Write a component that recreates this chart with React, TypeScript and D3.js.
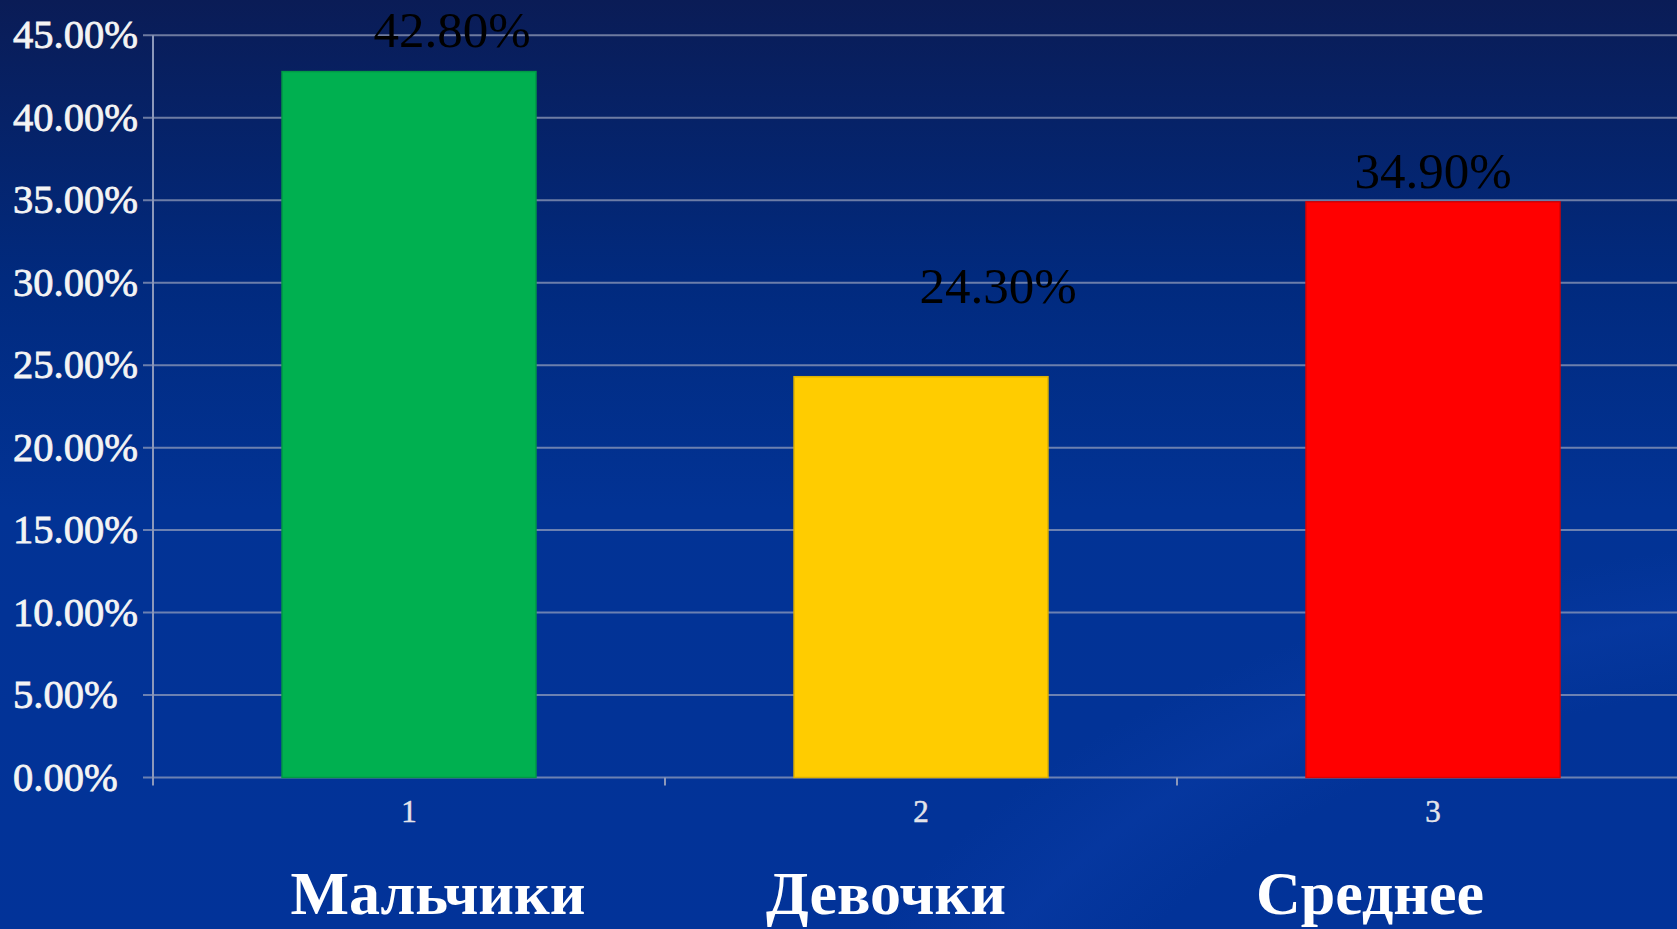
import React from "react";
import * as d3 from "d3";

const categories = ["1", "2", "3"];
const values = [42.8, 24.3, 34.9];
const valueLabels = ["42.80%", "24.30%", "34.90%"];
const groupNames = ["Мальчики", "Девочки", "Среднее"];
const barColors = ["#00b050", "#ffcc00", "#ff0000"];
const yTicks = [0, 5, 10, 15, 20, 25, 30, 35, 40, 45];
const yTickLabels = ["0.00%", "5.00%", "10.00%", "15.00%", "20.00%", "25.00%", "30.00%", "35.00%", "40.00%", "45.00%"];

// layout-only tweaks (label placement in the original slide)
const labelDx = [43, 77, 0];
const labelDy = [25, 74, 14];
const nameDx = [29, -35, -63];

const W = 1677;
const H = 929;

export default function App() {
  const x = d3.scaleBand<string>().domain(categories).range([153, 1689]).paddingInner(0.504).paddingOuter(0.252);
  const y = d3.scaleLinear().domain([0, 45]).range([777.5, 35.3]);
  const step = x.step();
  const axisLeft = x.range()[0];

  return (
    <div style={{ position: "fixed", left: 0, top: 0, width: W, height: H, overflow: "hidden" }}>
      <svg width={W} height={H} style={{ display: "block" }}>
        <defs>
          <linearGradient id="bg" x1="0" y1="0" x2="0" y2="1">
            <stop offset="0" stopColor="#0a1c56" />
            <stop offset="0.3" stopColor="#012a7e" />
            <stop offset="0.55" stopColor="#023395" />
            <stop offset="1" stopColor="#023399" />
          </linearGradient>
          <radialGradient id="swoosh" cx="1.15" cy="1.25" r="0.75">
            <stop offset="0.7" stopColor="#0a3ca8" stopOpacity="0" />
            <stop offset="0.8" stopColor="#0a3ca8" stopOpacity="0.45" />
            <stop offset="0.9" stopColor="#0a3ca8" stopOpacity="0" />
          </radialGradient>
        </defs>
        <rect x={0} y={0} width={W} height={H} fill="url(#bg)" />
        <rect x={0} y={0} width={W} height={H} fill="url(#swoosh)" />

        {/* gridlines */}
        {yTicks.map((t) => (
          <line key={"g" + t} x1={axisLeft - 10} x2={W} y1={y(t)} y2={y(t)} stroke="#9aa3bd" strokeWidth={2} strokeOpacity={0.7} />
        ))}
        {/* y axis */}
        <line x1={axisLeft} x2={axisLeft} y1={y(45)} y2={y(0) + 8} stroke="#8c98ba" strokeWidth={2} />
        {/* x ticks */}
        {[1, 2].map((i) => (
          <line key={"xt" + i} x1={axisLeft + i * step} x2={axisLeft + i * step} y1={y(0)} y2={y(0) + 8} stroke="#8c98ba" strokeWidth={2} />
        ))}

        {/* bars */}
        {categories.map((c, i) => (
          <rect
            key={"b" + c}
            x={x(c)}
            y={y(values[i])}
            width={x.bandwidth()}
            height={y(0) - y(values[i])}
            fill={barColors[i]}
            stroke={d3.color(barColors[i])!.darker(0.4).toString()}
            strokeWidth={1.5}
          />
        ))}

        {/* y tick labels */}
        {yTicks.map((t, i) => (
          <text
            key={"yl" + t}
            x={13}
            y={y(t) + 13}
            fill="#f4f4f4"
            stroke="#f4f4f4"
            strokeWidth={0.8}
            fontFamily="'Liberation Serif', 'Times New Roman', serif"
            fontSize={40.5}
          >
            {yTickLabels[i]}
          </text>
        ))}

        {/* category tick labels */}
        {categories.map((c) => (
          <text
            key={"xl" + c}
            x={(x(c) as number) + x.bandwidth() / 2}
            y={822}
            textAnchor="middle"
            fill="#e4e4ea"
            stroke="#e4e4ea"
            strokeWidth={0.5}
            fontFamily="'Liberation Serif', 'Times New Roman', serif"
            fontSize={31}
          >
            {c}
          </text>
        ))}

        {/* value labels */}
        {categories.map((c, i) => (
          <text
            key={"vl" + c}
            x={(x(c) as number) + x.bandwidth() / 2 + labelDx[i]}
            y={y(values[i]) - labelDy[i]}
            textAnchor="middle"
            fill="#000000"
            fontFamily="'Liberation Serif', 'Times New Roman', serif"
            fontSize={51}
          >
            {valueLabels[i]}
          </text>
        ))}

        {/* group names */}
        {categories.map((c, i) => (
          <text
            key={"gn" + c}
            x={(x(c) as number) + x.bandwidth() / 2 + nameDx[i]}
            y={914}
            textAnchor="middle"
            fill="#ffffff"
            fontFamily="'Liberation Serif', 'Times New Roman', serif"
            fontWeight="bold"
            fontSize={62}
          >
            {groupNames[i]}
          </text>
        ))}
      </svg>
    </div>
  );
}
